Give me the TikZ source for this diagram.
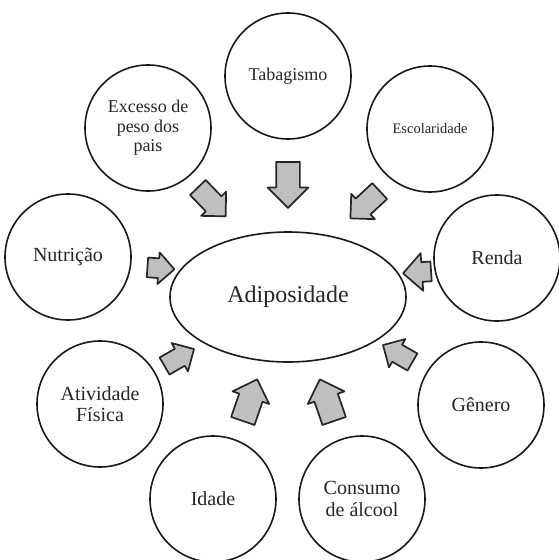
\documentclass[tikz,border=0pt]{standalone}
\usepackage{fontspec}
\setmainfont{Liberation Serif}
\usetikzlibrary{shapes.geometric,shapes.arrows}
\tikzset{
  factor/.style={circle, draw=black!90, line width=1.6pt, fill=white, minimum size=126pt, inner sep=0pt, align=center, text=black!85, font=\fontsize{20}{22}\selectfont},
  central/.style={ellipse, draw=black!90, line width=1.6pt, fill=white, minimum width=236pt, minimum height=130pt, inner sep=0pt, text=black!85, font=\fontsize{24}{26}\selectfont},
  barrow/.style={single arrow, draw=black!85, line width=1.7pt, line join=round, fill=gray!50, inner xsep=0pt},
}
\newcommand{\blockarr}[7]{% name, x, y, angle, L, shaft/2, extend
  \node[barrow, minimum height=#5pt, inner ysep=#6pt, single arrow head extend=#7pt, rotate=#4] (#1) at (#2,#3) {};}
\begin{document}
\begin{tikzpicture}[x=1pt,y=-1pt]
\useasboundingbox (0,0) rectangle (559,560);
% central
\node[central] (adip) at (288,297) {Adiposidade};
% factors
\node[factor, font=\fontsize{18}{20}\selectfont] (tab) at (288,76) {Tabagismo};
\node[factor, font=\fontsize{18}{19.5}\selectfont] (exc) at (148,128) {Excesso de\\peso dos\\pais};
\node[factor, font=\fontsize{14.5}{16}\selectfont] (esc) at (430,129) {Escolaridade};
\node[factor] (nut) at (68,257) {Nutrição};
\node[factor] (ren) at (497,258) {Renda};
\node[factor, font=\fontsize{20}{21}\selectfont] (ati) at (100,404) {Atividade\\Física};
\node[factor] (gen) at (481,405) {Gênero};
\node[factor] (ida) at (213,499) {Idade};
\node[factor] (con) at (362,499) {Consumo\\de álcool};
% block arrows
\blockarr{a1}{288}{179}{-90}{46}{11}{8.5}
\blockarr{a2}{208}{198}{-46}{40}{10}{6.5}
\blockarr{a3}{369}{201}{-137}{40}{10}{6.5}
\blockarr{a4}{156}{268}{-4}{27}{9}{6}
\blockarr{a5}{422}{272}{184}{28}{9}{9}
\blockarr{a6}{175}{360}{30}{34}{9}{6.5}
\blockarr{a7}{402}{356}{150}{34}{9}{6.5}
\blockarr{a8}{248}{406}{71}{44}{11.5}{7}
\blockarr{a9}{329}{406}{109}{44}{11.5}{7}
\end{tikzpicture}
\end{document}
